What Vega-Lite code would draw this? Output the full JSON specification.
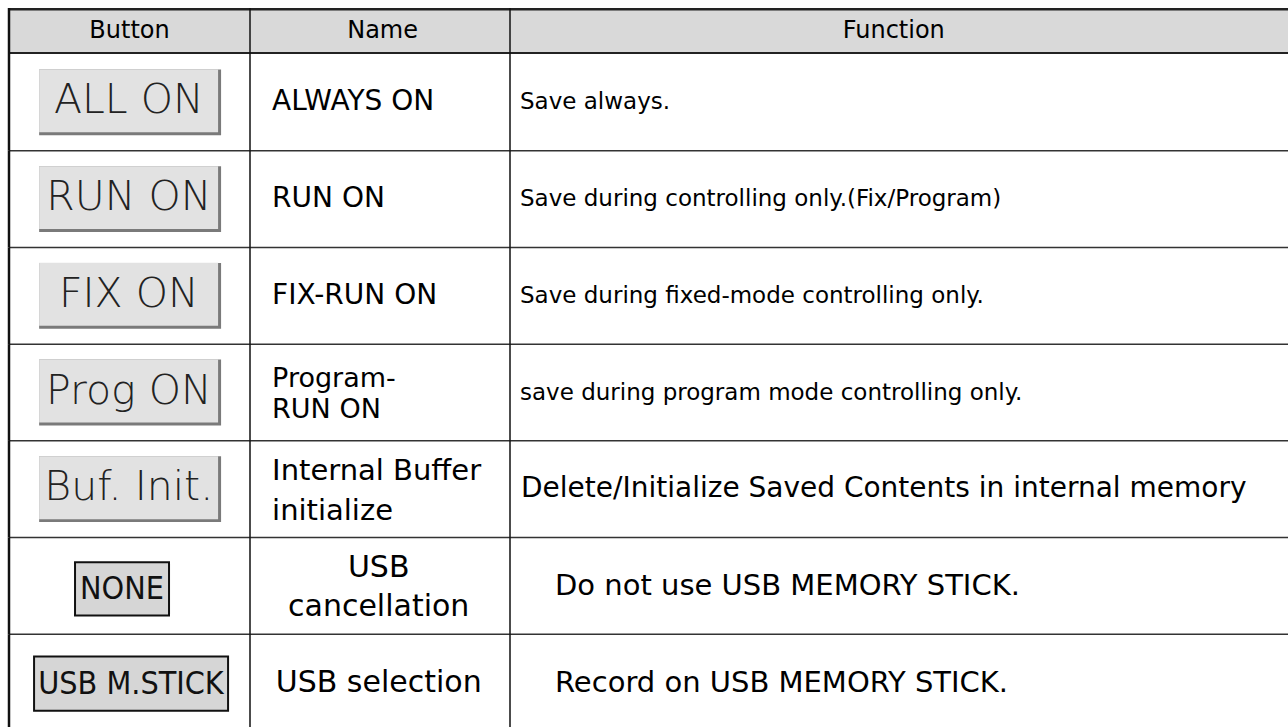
{
  "$schema": "https://vega.github.io/schema/vega-lite/v6.json",
  "background": "white",
  "padding": {"left": 7, "top": 8, "right": 0, "bottom": 0},
  "config": {
    "view": {"stroke": null},
    "concat": {"spacing": 0},
    "font": "DejaVu Sans",
    "text": {"font": "DejaVu Sans", "color": "#000"}
  },
  "datasets": {
    "header": [{"col": "Button"}, {"col": "Name"}, {"col": "Function"}],
    "rows": [
      {"row": 1, "button": "ALL ON", "name": "ALWAYS ON", "func": "Save always."},
      {"row": 2, "button": "RUN ON", "name": "RUN ON", "func": "Save during controlling only.(Fix/Program)"},
      {"row": 3, "button": "FIX ON", "name": "FIX-RUN ON", "func": "Save during fixed-mode controlling only."},
      {"row": 4, "button": "Prog ON", "name": "Program-\nRUN ON", "func": "save during program mode controlling only."},
      {"row": 5, "button": "Buf. Init.", "name": "Internal Buffer\ninitialize", "func": "Delete/Initialize Saved Contents in internal memory"},
      {"row": 6, "button": "NONE", "name": "USB\ncancellation", "func": "Do not use USB MEMORY STICK."},
      {"row": 7, "button": "USB M.STICK", "name": "USB selection", "func": "Record on USB MEMORY STICK."}
    ]
  },
  "spacing": 0,
  "vconcat": [
    {
      "spacing": 0,
      "bounds": "flush",
      "hconcat": [
        {
          "width": 241, "height": 46,
          "view": {"fill": "#d9d9d9", "stroke": null},
          "data": {"name": "header"},
          "transform": [{"filter": "datum.col === 'Button'"}],
          "layer": [
            {"mark": {"type": "text", "fontSize": 24, "baseline": "middle", "align": "center"},
             "encoding": {"text": {"field": "col"},
               "x": {"datum": 0.5, "type": "quantitative", "scale": {"domain": [0, 1]}, "axis": null},
               "y": {"datum": 0.5, "type": "quantitative", "scale": {"domain": [0, 1]}, "axis": null}}},
            {"mark": {"type": "bar", "color": "#222"}, "encoding": {"y": {"datum": 0.945, "type": "quantitative"}, "y2": {"datum": 1}, "x": {"datum": 0, "type": "quantitative"}, "x2": {"datum": 1}}},
            {"mark": {"type": "bar", "color": "#222"}, "encoding": {"y": {"datum": 0, "type": "quantitative"}, "y2": {"datum": 0.045}, "x": {"datum": 0, "type": "quantitative"}, "x2": {"datum": 1}}},
            {"mark": {"type": "bar", "color": "#111", "xOffset": -1.25, "x2Offset": 1.25}, "encoding": {"x": {"datum": 0, "type": "quantitative"}, "x2": {"datum": 0}, "y": {"datum": 0, "type": "quantitative"}, "y2": {"datum": 1}}}
          ]
        },
        {
          "width": 260, "height": 46,
          "view": {"fill": "#d9d9d9", "stroke": null},
          "data": {"name": "header"},
          "transform": [{"filter": "datum.col === 'Name'"}],
          "layer": [
            {"mark": {"type": "text", "fontSize": 24, "baseline": "middle", "align": "center"},
             "encoding": {"text": {"field": "col"},
               "x": {"datum": 0.51, "type": "quantitative", "scale": {"domain": [0, 1]}, "axis": null},
               "y": {"datum": 0.5, "type": "quantitative", "scale": {"domain": [0, 1]}, "axis": null}}},
            {"mark": {"type": "bar", "color": "#222"}, "encoding": {"y": {"datum": 0.945, "type": "quantitative"}, "y2": {"datum": 1}, "x": {"datum": 0, "type": "quantitative"}, "x2": {"datum": 1}}},
            {"mark": {"type": "bar", "color": "#222"}, "encoding": {"y": {"datum": 0, "type": "quantitative"}, "y2": {"datum": 0.045}, "x": {"datum": 0, "type": "quantitative"}, "x2": {"datum": 1}}},
            {"mark": {"type": "bar", "color": "#111", "xOffset": -0.75, "x2Offset": 0.75}, "encoding": {"x": {"datum": 0, "type": "quantitative"}, "x2": {"datum": 0}, "y": {"datum": 0, "type": "quantitative"}, "y2": {"datum": 1}}}
          ]
        },
        {
          "width": 780, "height": 46,
          "view": {"fill": "#d9d9d9", "stroke": null},
          "data": {"name": "header"},
          "transform": [{"filter": "datum.col === 'Function'"}],
          "layer": [
            {"mark": {"type": "text", "fontSize": 24, "baseline": "middle", "align": "center"},
             "encoding": {"text": {"field": "col"},
               "x": {"datum": 0.492, "type": "quantitative", "scale": {"domain": [0, 1]}, "axis": null},
               "y": {"datum": 0.5, "type": "quantitative", "scale": {"domain": [0, 1]}, "axis": null}}},
            {"mark": {"type": "bar", "color": "#222"}, "encoding": {"y": {"datum": 0.945, "type": "quantitative"}, "y2": {"datum": 1}, "x": {"datum": 0, "type": "quantitative"}, "x2": {"datum": 1}}},
            {"mark": {"type": "bar", "color": "#222"}, "encoding": {"y": {"datum": 0, "type": "quantitative"}, "y2": {"datum": 0.045}, "x": {"datum": 0, "type": "quantitative"}, "x2": {"datum": 1}}},
            {"mark": {"type": "bar", "color": "#111", "xOffset": -0.75, "x2Offset": 0.75}, "encoding": {"x": {"datum": 0, "type": "quantitative"}, "x2": {"datum": 0}, "y": {"datum": 0, "type": "quantitative"}, "y2": {"datum": 1}}}
          ]
        }
      ]
    },
    {
      "spacing": 0,
      "bounds": "flush",
      "hconcat": [
        {
          "width": 241, "height": 677,
          "data": {"name": "rows"},
          "layer": [
            {"transform": [{"filter": "datum.row <= 5"}],
             "mark": {"type": "bar", "color": "#7a7a7a", "height": {"band": 0.68}},
             "encoding": {
               "y": {"field": "row", "type": "ordinal", "scale": {"type": "band", "paddingInner": 0, "paddingOuter": 0, "domain": [1, 2, 3, 4, 5, 6, 7]}, "axis": null},
               "x": {"datum": 0.125, "type": "quantitative", "scale": {"domain": [0, 1]}, "axis": null},
               "x2": {"datum": 0.88}}},
            {"transform": [{"filter": "datum.row <= 5"}],
             "mark": {"type": "bar", "color": "#e2e2e2", "height": {"band": 0.65}, "yOffset": -1.5, "x2Offset": -3},
             "encoding": {
               "y": {"field": "row", "type": "ordinal"},
               "x": {"datum": 0.125, "type": "quantitative"},
               "x2": {"datum": 0.88}}},
            {"transform": [{"filter": "datum.row === 6"}],
             "mark": {"type": "bar", "color": "#d6d6d6", "stroke": "#111", "strokeWidth": 2, "height": {"band": 0.55}, "yOffset": 3},
             "encoding": {
               "y": {"field": "row", "type": "ordinal"},
               "x": {"datum": 0.274, "type": "quantitative"},
               "x2": {"datum": 0.664}}},
            {"transform": [{"filter": "datum.row === 7"}],
             "mark": {"type": "bar", "color": "#d6d6d6", "stroke": "#111", "strokeWidth": 2, "height": {"band": 0.56}, "yOffset": 1},
             "encoding": {
               "y": {"field": "row", "type": "ordinal"},
               "x": {"datum": 0.104, "type": "quantitative"},
               "x2": {"datum": 0.909}}},
            {"transform": [{"filter": "datum.row <= 5"}],
             "mark": {"type": "text", "fontSize": 41, "fontWeight": 200, "color": "#222", "baseline": "middle", "align": "center", "dy": -1},
             "encoding": {"text": {"field": "button"}, "y": {"field": "row", "type": "ordinal"}, "x": {"datum": 0.497, "type": "quantitative"}}},
            {"transform": [{"filter": "datum.row === 6"}],
             "mark": {"type": "text", "font": "DejaVu Sans Condensed", "fontSize": 32, "fontWeight": 200, "color": "#111", "baseline": "middle", "align": "center", "dy": 3},
             "encoding": {"text": {"field": "button"}, "y": {"field": "row", "type": "ordinal"}, "x": {"datum": 0.469, "type": "quantitative"}}},
            {"transform": [{"filter": "datum.row === 7"}],
             "mark": {"type": "text", "font": "DejaVu Sans Condensed", "fontSize": 32, "fontWeight": 200, "color": "#111", "baseline": "middle", "align": "center", "dy": 1},
             "encoding": {"text": {"field": "button"}, "y": {"field": "row", "type": "ordinal"}, "x": {"datum": 0.506, "type": "quantitative"}}},
            {"transform": [{"filter": "datum.row > 1"}],
             "mark": {"type": "rule", "color": "#333", "strokeWidth": 1.5},
             "encoding": {"y": {"field": "row", "type": "ordinal", "bandPosition": 0}}},
            {"mark": {"type": "bar", "color": "#111", "xOffset": -1.25, "x2Offset": 1.25},
             "encoding": {"y": {"field": "row", "type": "ordinal"}, "x": {"datum": 0, "type": "quantitative"}, "x2": {"datum": 0}}}
          ]
        },
        {
          "width": 260, "height": 677,
          "data": {"name": "rows"},
          "layer": [
            {"transform": [{"filter": "datum.row <= 3"}],
             "mark": {"type": "text", "fontSize": 28, "baseline": "middle", "align": "left"},
             "encoding": {"text": {"field": "name"},
               "y": {"field": "row", "type": "ordinal", "scale": {"type": "band", "paddingInner": 0, "paddingOuter": 0, "domain": [1, 2, 3, 4, 5, 6, 7]}, "axis": null},
               "x": {"datum": 0.085, "type": "quantitative", "scale": {"domain": [0, 1]}, "axis": null}}},
            {"transform": [{"filter": "datum.row === 4"}],
             "mark": {"type": "text", "fontSize": 27, "baseline": "middle", "align": "left", "lineBreak": "\n", "lineHeight": 31, "dy": -14},
             "encoding": {"text": {"field": "name"}, "y": {"field": "row", "type": "ordinal"}, "x": {"datum": 0.085, "type": "quantitative"}}},
            {"transform": [{"filter": "datum.row === 5"}],
             "mark": {"type": "text", "fontSize": 29, "baseline": "middle", "align": "left", "lineBreak": "\n", "lineHeight": 40, "dy": -18},
             "encoding": {"text": {"field": "name"}, "y": {"field": "row", "type": "ordinal"}, "x": {"datum": 0.085, "type": "quantitative"}}},
            {"transform": [{"filter": "datum.row === 6"}],
             "mark": {"type": "text", "fontSize": 30, "baseline": "middle", "align": "center", "lineBreak": "\n", "lineHeight": 39, "dy": -18},
             "encoding": {"text": {"field": "name"}, "y": {"field": "row", "type": "ordinal"}, "x": {"datum": 0.495, "type": "quantitative"}}},
            {"transform": [{"filter": "datum.row === 7"}],
             "mark": {"type": "text", "fontSize": 30, "baseline": "middle", "align": "center"},
             "encoding": {"text": {"field": "name"}, "y": {"field": "row", "type": "ordinal"}, "x": {"datum": 0.495, "type": "quantitative"}}},
            {"transform": [{"filter": "datum.row > 1"}],
             "mark": {"type": "rule", "color": "#333", "strokeWidth": 1.5},
             "encoding": {"y": {"field": "row", "type": "ordinal", "bandPosition": 0}}},
            {"mark": {"type": "bar", "color": "#111", "xOffset": -0.75, "x2Offset": 0.75},
             "encoding": {"y": {"field": "row", "type": "ordinal"}, "x": {"datum": 0, "type": "quantitative"}, "x2": {"datum": 0}}}
          ]
        },
        {
          "width": 780, "height": 677,
          "data": {"name": "rows"},
          "layer": [
            {"transform": [{"filter": "datum.row <= 4"}],
             "mark": {"type": "text", "fontSize": 23, "baseline": "middle", "align": "left"},
             "encoding": {"text": {"field": "func"},
               "y": {"field": "row", "type": "ordinal", "scale": {"type": "band", "paddingInner": 0, "paddingOuter": 0, "domain": [1, 2, 3, 4, 5, 6, 7]}, "axis": null},
               "x": {"datum": 0.0128, "type": "quantitative", "scale": {"domain": [0, 1]}, "axis": null}}},
            {"transform": [{"filter": "datum.row === 5"}],
             "mark": {"type": "text", "fontSize": 28, "baseline": "middle", "align": "left"},
             "encoding": {"text": {"field": "func"}, "y": {"field": "row", "type": "ordinal"}, "x": {"datum": 0.0141, "type": "quantitative"}}},
            {"transform": [{"filter": "datum.row >= 6"}],
             "mark": {"type": "text", "fontSize": 29, "baseline": "middle", "align": "left"},
             "encoding": {"text": {"field": "func"}, "y": {"field": "row", "type": "ordinal"}, "x": {"datum": 0.0577, "type": "quantitative"}}},
            {"transform": [{"filter": "datum.row > 1"}],
             "mark": {"type": "rule", "color": "#333", "strokeWidth": 1.5},
             "encoding": {"y": {"field": "row", "type": "ordinal", "bandPosition": 0}}},
            {"mark": {"type": "bar", "color": "#111", "xOffset": -0.75, "x2Offset": 0.75},
             "encoding": {"y": {"field": "row", "type": "ordinal"}, "x": {"datum": 0, "type": "quantitative"}, "x2": {"datum": 0}}}
          ]
        }
      ]
    }
  ]
}
